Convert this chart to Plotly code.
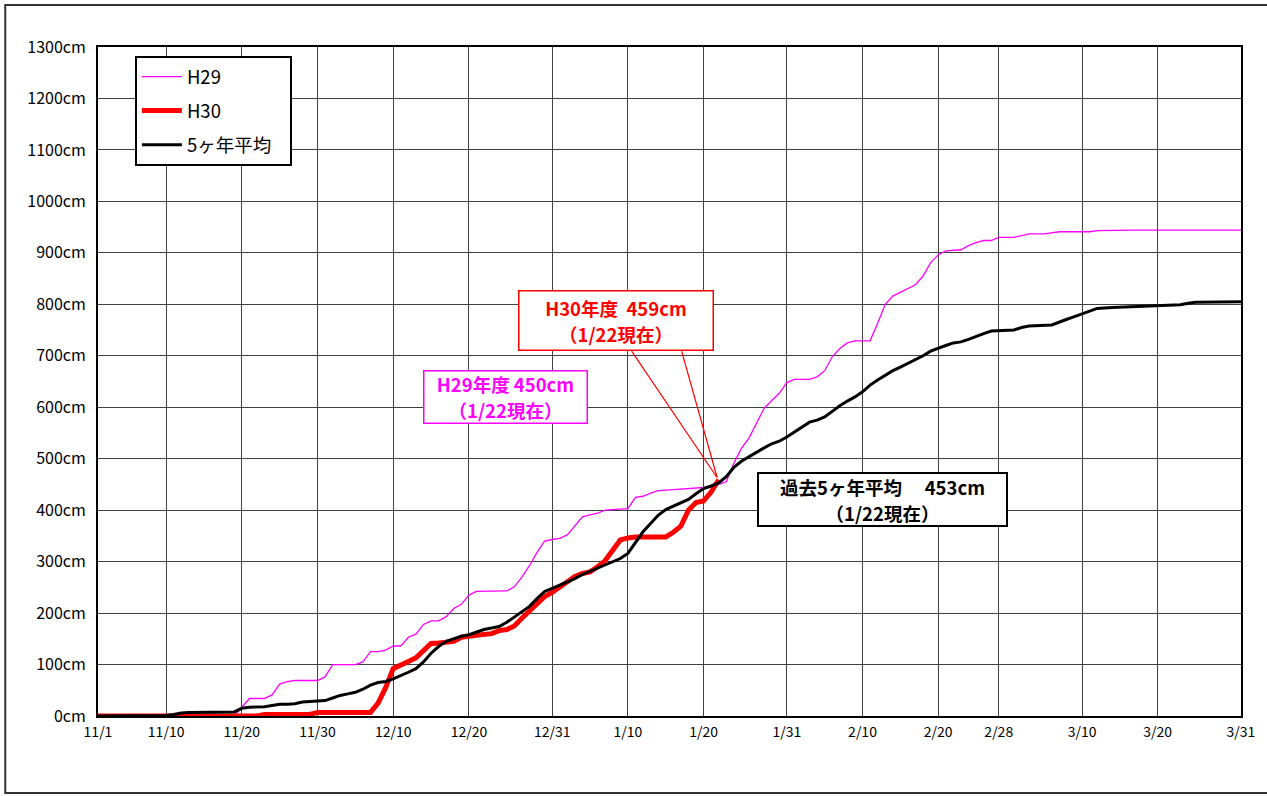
import plotly.graph_objects as go

# ---------------- data ----------------
MONTHS = [(11, 30), (12, 31), (1, 31), (2, 29), (3, 31)]
CALENDAR = [f"{m}/{d}" for m, n in MONTHS for d in range(1, n + 1)]
DAY_INDEX = {s: i for i, s in enumerate(CALENDAR)}

TICK_LABELS = ["11/1", "11/10", "11/20", "11/30", "12/10", "12/20", "12/31",
               "1/10", "1/20", "1/31", "2/10", "2/20", "2/28", "3/10", "3/20", "3/31"]

H29_DATES = ["11/1", "11/19", "11/21", "11/23", "11/24", "11/25", "11/26", "11/27", "11/30",
             "12/1", "12/2", "12/5", "12/6", "12/7", "12/8", "12/9", "12/10", "12/11", "12/12",
             "12/13", "12/14", "12/15", "12/16", "12/17", "12/18", "12/19", "12/20", "12/21",
             "12/25", "12/26", "12/27", "12/28", "12/29", "12/30", "12/31",
             "1/1", "1/2", "1/3", "1/4", "1/5", "1/6", "1/7", "1/10", "1/11", "1/12", "1/13",
             "1/14", "1/16", "1/20", "1/21", "1/22", "1/23", "1/24", "1/25", "1/26", "1/27",
             "1/28", "1/29", "1/30", "1/31",
             "2/1", "2/3", "2/4", "2/5", "2/6", "2/7", "2/8", "2/9", "2/11", "2/12", "2/13",
             "2/14", "2/15", "2/16", "2/17", "2/18", "2/19", "2/20", "2/21", "2/23", "2/24",
             "2/25", "2/26", "2/27", "2/28",
             "3/1", "3/3", "3/5", "3/7", "3/11", "3/12", "3/17", "3/31"]
H29_VALUES = [0, 0, 34, 34, 41, 62, 67, 69, 69,
              76, 100, 100, 105, 125, 125, 128, 136, 136, 153,
              159, 178, 185, 185, 193, 209, 217, 235, 242,
              243, 251, 270, 292, 318, 340, 343,
              345, 352, 370, 387, 391, 394, 400, 403, 425, 427, 433,
              438, 440, 444, 447, 450, 455, 491, 520, 540, 569,
              598, 613, 627, 648,
              654, 654, 659, 671, 698, 714, 725, 729, 729, 763, 800,
              816, 823, 830, 838, 855, 881, 896, 904, 906, 914,
              920, 924, 924, 930,
              930, 937, 937, 941, 941, 943, 944, 944]

H30_DATES = ["11/1", "11/22", "11/23", "11/29", "11/30",
             "12/7", "12/8", "12/9", "12/10", "12/11", "12/12", "12/13", "12/14", "12/15",
             "12/16", "12/18", "12/19", "12/20", "12/21", "12/23", "12/24", "12/25", "12/26",
             "12/27", "12/28", "12/29", "12/30", "12/31",
             "1/1", "1/2", "1/3", "1/4", "1/5", "1/6", "1/7", "1/8", "1/9", "1/10", "1/11",
             "1/15", "1/16", "1/17", "1/18", "1/19", "1/20", "1/21", "1/22"]
H30_VALUES = [0, 0, 3, 3, 7,
              7, 25, 55, 92, 100, 106, 113, 126, 141,
              142, 145, 153, 156, 157, 160, 166, 168, 175,
              190, 205, 220, 232, 240,
              250, 260, 271, 277, 280, 290, 302, 322, 342, 346, 348,
              348, 357, 369, 400, 415, 418, 435, 459]

AVG_DATES = ["11/1", "11/9", "11/10", "11/11", "11/12", "11/13", "11/19", "11/20", "11/21",
             "11/23", "11/24", "11/25", "11/26", "11/27", "11/28", "11/29",
             "12/1", "12/2", "12/3", "12/4", "12/5", "12/6", "12/7", "12/8", "12/9", "12/10",
             "12/11", "12/12", "12/13", "12/14", "12/15", "12/16", "12/17", "12/18", "12/19",
             "12/20", "12/21", "12/22", "12/23", "12/24", "12/25", "12/26", "12/27", "12/28",
             "12/29", "12/30", "12/31",
             "1/1", "1/2", "1/3", "1/4", "1/5", "1/6", "1/7", "1/8", "1/9", "1/10", "1/11",
             "1/12", "1/13", "1/14", "1/15", "1/16", "1/17", "1/18", "1/19", "1/20", "1/21",
             "1/22", "1/23", "1/24", "1/25", "1/26", "1/27", "1/28", "1/29", "1/30", "1/31",
             "2/1", "2/2", "2/3", "2/4", "2/5", "2/6", "2/7", "2/8", "2/9", "2/10", "2/11",
             "2/12", "2/13", "2/14", "2/15", "2/16", "2/17", "2/18", "2/19", "2/20", "2/21",
             "2/22", "2/23", "2/24", "2/25", "2/26", "2/27", "2/28",
             "3/1", "3/2", "3/3", "3/6", "3/7", "3/8", "3/9", "3/10", "3/11", "3/12", "3/14",
             "3/16", "3/20", "3/23", "3/24", "3/25", "3/31"]
AVG_VALUES = [0, 0, 1, 3, 6, 7, 8, 15, 17,
              18, 21, 23, 23, 24, 27, 28,
              30, 35, 40, 43, 46, 52, 60, 65, 67, 72,
              78, 85, 92, 105, 122, 135, 145, 150, 155,
              158, 163, 168, 171, 174, 182, 192, 203, 213,
              228, 242, 248,
              254, 260, 267, 275, 281, 287, 294, 300, 306, 316, 338,
              358, 374, 390, 401, 408, 415, 421, 432, 442, 447,
              453, 465, 483, 495, 504, 513, 521, 529, 534, 542,
              552, 562, 571, 575, 581, 592, 603, 612, 620, 630, 643,
              653, 662, 671, 678, 685, 693, 700, 709, 715, 720,
              725, 727, 732, 738, 743, 748, 749,
              750, 755, 758, 760, 766, 771, 776, 781, 787, 792, 794,
              795, 797, 799, 802, 804, 805]

SERIES_NAMES = ["H29", "H30", "5ヶ年平均"]
NOTE_H30 = "H30年度\u00a0\u00a0459cm"
NOTE_H29 = "H29年度 450cm"
NOTE_AVG = "過去5ヶ年平均\u3000\u00a0453cm"
NOTE_DATE = "（1/22現在）"

FONT = "Noto Sans CJK JP"


def idx(dates):
    return [DAY_INDEX[d] for d in dates]


fig = go.Figure()
fig.add_trace(go.Scatter(x=idx(H29_DATES), y=H29_VALUES, mode="lines", name=SERIES_NAMES[0],
                         legendgroup="a", line=dict(color="#FF00FF", width=1.3)))
fig.add_trace(go.Scatter(x=idx(H30_DATES), y=H30_VALUES, mode="lines", name=SERIES_NAMES[1],
                         legendgroup="b", line=dict(color="#FF0000", width=5)))
fig.add_trace(go.Scatter(x=idx(AVG_DATES), y=AVG_VALUES, mode="lines",
                         name=SERIES_NAMES[2] + "\u00a0\u2002",
                         legendgroup="c", line=dict(color="#000000", width=3)))

L, R, T, B = 98, 23, 47, 80
W, H = 1267, 796
PW, PH = W - L - R, H - T - B


def px(xp):
    return (xp - L) / PW


def py(yp):
    return (H - B - yp) / PH


# callout wedge for H30 (tip at the last H30 point)
tip_x = DAY_INDEX[H30_DATES[-1]]
tip_y = H30_VALUES[-1]
base_y = 709
fig.add_shape(type="path", xref="x", yref="y",
              path=f"M 70.5 {base_y} L {tip_x - 0.2} {tip_y + 4} L 77.1 {base_y}",
              line=dict(color="#FF0000", width=1.2), layer="above")

# outer frame (open on the right, as in the cropped original)
fx0, fx1, fy0, fy1 = px(5), px(1300), py(793), py(5)
fig.add_shape(type="path", xref="paper", yref="paper",
              path=f"M {fx1} {fy1} L {fx0} {fy1} L {fx0} {fy0} L {fx1} {fy0}",
              line=dict(color="#333333", width=2), layer="below")


def note(text1, text2, color, cx, cy, w, h, bw):
    fig.add_annotation(
        xref="paper", yref="paper", x=px(cx), y=py(cy), xanchor="center", yanchor="middle",
        text=f"<b><span style='font-size:18.5px'>{text1}</span><br>"
             f"<span style='font-size:18.5px'>{text2}</span></b>",
        showarrow=False, font=dict(family=FONT, size=20, color=color),
        bgcolor="white", bordercolor=color, borderwidth=bw, borderpad=0,
        width=w - 2 * bw, height=h - 2 * bw, align="center")


note(NOTE_H30, NOTE_DATE, "#FF0000", 617, 320.5, 196, 61, 1.5)
note(NOTE_H29, NOTE_DATE, "#FF00FF", 506.5, 397, 165, 54, 1.5)
note(NOTE_AVG, NOTE_DATE, "#000000", 884.5, 499.5, 251, 55, 2)

fig.update_layout(
    width=W, height=H,
    margin=dict(l=L, r=R, t=T, b=B, pad=0),
    paper_bgcolor="white", plot_bgcolor="white",
    font=dict(family=FONT, color="black"),
    showlegend=True,
    legend=dict(x=px(135), y=py(56), xanchor="left", yanchor="top",
                bordercolor="black", borderwidth=2, bgcolor="white",
                font=dict(family=FONT, size=18.5, color="black"),
                tracegroupgap=7, itemwidth=40,
                traceorder="grouped"),
    xaxis=dict(range=[0, len(CALENDAR) - 1], tickmode="array",
               tickvals=[DAY_INDEX[t] for t in TICK_LABELS], ticktext=TICK_LABELS,
               showgrid=True, gridcolor="#404040", gridwidth=1,
               showline=True, linecolor="black", linewidth=2, mirror=True,
               ticks="", ticklabelstandoff=2, zeroline=False,
               tickfont=dict(family=FONT, size=14, color="black")),
    yaxis=dict(range=[0, 1300], dtick=100, ticksuffix="cm",
               showgrid=True, gridcolor="#404040", gridwidth=1,
               showline=True, linecolor="black", linewidth=2, mirror=True,
               ticks="", ticklabelstandoff=7, zeroline=False,
               tickfont=dict(family=FONT, size=16, color="black")),
)

fig.write_html("out.html", config={"displayModeBar": False},
               post_script="document.body.style.margin='0';")
